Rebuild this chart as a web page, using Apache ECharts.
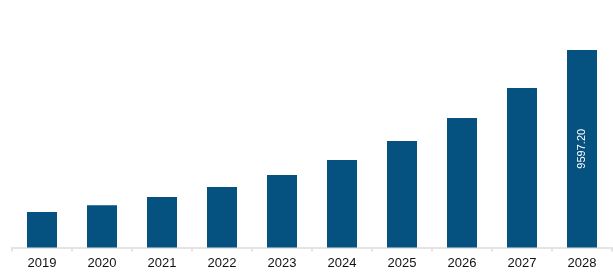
<!DOCTYPE html>
<html><head><meta charset="utf-8">
<script src="https://cdn.jsdelivr.net/npm/echarts@6/dist/echarts.min.js"></script>
<style>html,body{margin:0;padding:0;background:#fff}#c{width:613px;height:280px}</style>
</head><body><div id="c"></div>
<script>
const categories = ['2019','2020','2021','2022','2023','2024','2025','2026','2027','2028'];
const values = [1725, 2050, 2454, 2940, 3523, 4252, 5175, 6293, 7750, 9597.20];
const labelled = ['2028'];
const chart = echarts.init(document.getElementById('c'));
chart.setOption({
  animation: false,
  grid: {left: 12, right: 1, top: 41.7, bottom: 32.5, containLabel: false},
  xAxis: {
    type: 'category', data: categories,
    axisLine: {lineStyle: {color: '#e4e4e4', width: 2}},
    axisTick: {show: true, length: 4, lineStyle: {color: '#e4e4e4', width: 2}},
    axisLabel: {color: '#111', fontSize: 13, margin: 9, fontFamily: 'Liberation Sans, Arial, sans-serif'}
  },
  yAxis: {type: 'value', min: 0, max: 10000, show: false, splitLine: {show: false}},
  series: [{
    type: 'bar', data: values.map((v, i) => ({
      value: v,
      label: {show: labelled.includes(categories[i])}
    })),
    barWidth: '50%',
    itemStyle: {color: '#05517F'},
    label: {position: 'inside', rotate: 90, color: '#fff', fontSize: 11,
      fontFamily: 'Liberation Sans, Arial, sans-serif',
      formatter: p => p.value.toFixed(2)}
  }]
});
</script></body></html>
